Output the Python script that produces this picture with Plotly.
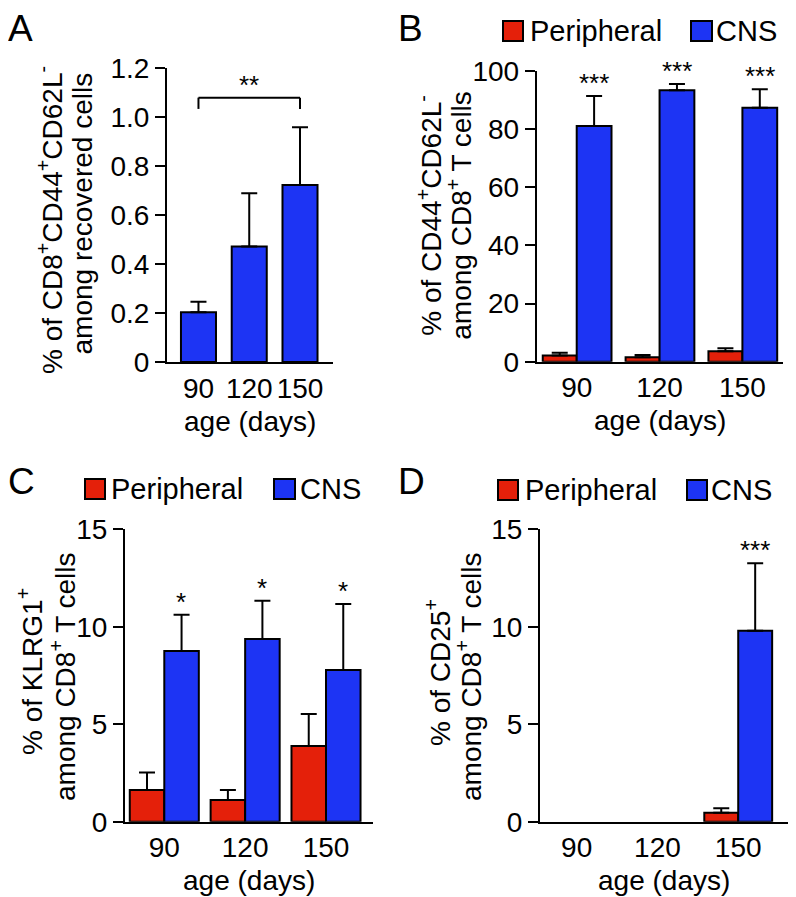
import plotly.graph_objects as go

# ---------------- data ----------------
ages = ['90', '120', '150']

# Panel A
a_cns = [0.203, 0.471, 0.722]
a_cns_err = [0.043, 0.218, 0.236]
a_ticks = [0, 0.2, 0.4, 0.6, 0.8, 1.0, 1.2]
a_ticktext = ['0', '0.2', '0.4', '0.6', '0.8', '1.0', '1.2']
a_bracket = [1.033, 1.079]
a_sig = '**'

# Panel B
b_per = [2.1, 1.5, 3.6]
b_per_err = [1.0, 0.8, 1.0]
b_cns = [81.1, 93.4, 87.4]
b_cns_err = [10.3, 2.1, 6.3]
b_sig = ['***', '***', '***']
b_ticks = [0, 20, 40, 60, 80, 100]

# Panel C
c_per = [1.63, 1.11, 3.88]
c_per_err = [0.90, 0.52, 1.65]
c_cns = [8.76, 9.37, 7.78]
c_cns_err = [1.86, 1.97, 3.39]
c_sig = ['*', '*', '*']
cd_ticks = [0, 5, 10, 15]

# Panel D
d_per = [None, None, 0.46]
d_per_err = [None, None, 0.23]
d_cns = [None, None, 9.80]
d_cns_err = [None, None, 3.46]
d_sig = ['', '', '***']

series_names = ['Peripheral', 'CNS']
RED = '#E4200A'
BLUE = '#1D34F4'
FONT = 'Liberation Sans, Arial, Helvetica, sans-serif'
FS = 28

W, H = 796, 897
OFF = 8  # page offset of the figure (browser body margin)


def fx(px):
    return (px - OFF) / W


def fy(py):
    return 1 - (py - OFF) / H


fig = go.Figure()

panels = {
    '': dict(x=(167, 333), y=(362, 68), yr=[0, 1.2], xr=[-0.62, 2.65],
             tv=a_ticks, tt=a_ticktext),
    '2': dict(x=(536.7, 783), y=(361.7, 71), yr=[0, 100], xr=[-0.483, 2.49],
              tv=b_ticks, tt=[str(v) for v in b_ticks]),
    '3': dict(x=(125, 373.3), y=(821.7, 529.3), yr=[0, 15], xr=[-0.486, 2.585],
              tv=cd_ticks, tt=[str(v) for v in cd_ticks]),
    '4': dict(x=(540, 788.3), y=(821.7, 529.3), yr=[0, 15], xr=[-0.454, 2.62],
              tv=cd_ticks, tt=[str(v) for v in cd_ticks]),
}

layout = {}
for k, p in panels.items():
    layout['xaxis' + k] = dict(
        domain=[fx(p['x'][0]), fx(p['x'][1])], anchor='y' + k,
        type='category', categoryorder='array', categoryarray=ages,
        range=p['xr'], showline=True, linewidth=2, linecolor='black',
        ticks='', showgrid=False, zeroline=False, fixedrange=True, automargin=False,
        tickfont=dict(size=FS, color='black', family=FONT),
        ticklabelstandoff=0,
    )
    layout['yaxis' + k] = dict(
        domain=[fy(p['y'][0]), fy(p['y'][1])], anchor='x' + k,
        range=p['yr'], showline=True, linewidth=2, linecolor='black',
        ticks='outside', ticklen=10, tickwidth=2, tickcolor='black', automargin=False,
        tickvals=p['tv'], ticktext=p['tt'], showgrid=False, zeroline=False,
        tickfont=dict(size=FS, color='black', family=FONT),
    )


def err(arr):
    return dict(type='data', symmetric=False, array=arr,
                arrayminus=[0 if v is not None else None for v in arr],
                color='black', thickness=2, width=8)


def add_bar(x, y, e, color, name, xa, ya, offset, width):
    fig.add_trace(go.Bar(
        x=x, y=y, name=name, marker=dict(color=color, line=dict(color='black', width=2)),
        error_y=err(e), xaxis=xa, yaxis=ya, offset=offset, width=width,
        showlegend=False,
    ))


add_bar(ages, a_cns, a_cns_err, BLUE, 'CNS', 'x', 'y', -0.345, 0.69)
add_bar(ages, b_per, b_per_err, RED, series_names[0], 'x2', 'y2', -0.41, 0.41)
add_bar(ages, b_cns, b_cns_err, BLUE, series_names[1], 'x2', 'y2', 0, 0.42)
add_bar(ages, c_per, c_per_err, RED, series_names[0], 'x3', 'y3', -0.427, 0.427)
add_bar(ages, c_cns, c_cns_err, BLUE, series_names[1], 'x3', 'y3', 0, 0.427)
add_bar(ages, d_per, d_per_err, RED, series_names[0], 'x4', 'y4', -0.42, 0.42)
add_bar(ages, d_cns, d_cns_err, BLUE, series_names[1], 'x4', 'y4', 0, 0.42)

annotations = []
shapes = []

# significance bracket (panel A) -- category positions by index
i0, i1, i2 = 0, 1, 2
shapes += [
    dict(type='line', xref='x', yref='y', x0=i0, x1=i0, y0=a_bracket[0], y1=a_bracket[1],
         line=dict(color='black', width=2)),
    dict(type='line', xref='x', yref='y', x0=i0, x1=i2, y0=a_bracket[1], y1=a_bracket[1],
         line=dict(color='black', width=2)),
    dict(type='line', xref='x', yref='y', x0=i2, x1=i2, y0=a_bracket[0], y1=a_bracket[1],
         line=dict(color='black', width=2)),
]
annotations.append(dict(text=a_sig, x=i1, y=a_bracket[1], xref='x', yref='y',
                        showarrow=False, yanchor='middle', yshift=13,
                        font=dict(size=26, color='black', family=FONT)))


def star_annots(sig, vals, errs, xa, ya, xshift):
    for i, (s, v, e) in enumerate(zip(sig, vals, errs)):
        if not s or v is None:
            continue
        annotations.append(dict(text=s, x=i, y=v + e, xref=xa, yref=ya, showarrow=False,
                                yanchor='middle', yshift=13, xshift=xshift,
                                font=dict(size=26, color='black', family=FONT)))


star_annots(b_sig, b_cns, b_cns_err, 'x2', 'y2', 17.5)
star_annots(c_sig, c_cns, c_cns_err, 'x3', 'y3', 17)
star_annots(d_sig, d_cns, d_cns_err, 'x4', 'y4', 17)

# panel letters (top row anchored to the top edge so nothing is cut)
for letter, (px, py, anc) in zip('ABCD', [(8, OFF, 'top'), (398, OFF, 'top'),
                                          (8, 481, 'middle'), (398, 481, 'middle')]):
    annotations.append(dict(text=letter, x=fx(px), y=fy(py), xref='paper', yref='paper',
                            xanchor='left', yanchor=anc, showarrow=False,
                            borderpad=0, borderwidth=0,
                            font=dict(size=37, color='black', family=FONT)))

ytitles = [
    (['% of CD8<sup>+</sup>CD44<sup>+</sup>CD62L<sup>-</sup>', 'among recovered cells'], [62, 91], [220, 214]),
    (['% of CD44<sup>+</sup>CD62L<sup>-</sup>', 'among CD8<sup>+</sup> T cells'], [441.7, 471.7], [215, 215]),
    (['% of KLRG1<sup>+</sup>', 'among CD8<sup>+</sup> T cells'], [42, 75], [672, 677]),
    (['% of CD25<sup>+</sup>', 'among CD8<sup>+</sup> T cells'], [450, 481], [672, 677]),
]
for lines, bases, centers in ytitles:
    for t, b, c in zip(lines, bases, centers):
        annotations.append(dict(text=t, x=fx(b + 8), y=fy(c), xref='paper', yref='paper',
                                xanchor='right', yanchor='middle', textangle=-90, showarrow=False,
                                font=dict(size=FS, color='black', family=FONT)))

for k, p in panels.items():
    cx = (p['x'][0] + p['x'][1]) / 2
    ty = p['y'][0] + 59
    annotations.append(dict(text='age (days)', x=fx(cx), y=fy(ty), xref='paper', yref='paper',
                            xanchor='center', yanchor='middle', showarrow=False,
                            font=dict(size=FS, color='black', family=FONT)))

legends = [
    dict(sq=[(503, 523), (691, 712)], txt=[528, 714], y=(21, 41)),
    dict(sq=[(85, 105), (274, 295)], txt=[109, 298], y=(479, 499)),
    dict(sq=[(498, 518), (687, 707)], txt=[523, 709], y=(480, 500)),
]
for lg in legends:
    for (x0, x1), tx, col, name in zip(lg['sq'], lg['txt'], [RED, BLUE], series_names):
        shapes.append(dict(type='rect', xref='paper', yref='paper', x0=fx(x0), x1=fx(x1),
                           y0=fy(lg['y'][1]), y1=fy(lg['y'][0]), fillcolor=col,
                           line=dict(color='black', width=2)))
        annotations.append(dict(text=name, x=fx(tx), y=fy((lg['y'][0] + lg['y'][1]) / 2),
                                xref='paper', yref='paper', xanchor='left', yanchor='middle',
                                showarrow=False, font=dict(size=29, color='black', family=FONT)))

fig.update_layout(
    **layout,
    width=W, height=H,
    margin=dict(l=0, r=0, t=0, b=0, autoexpand=False),
    paper_bgcolor='white', plot_bgcolor='white',
    barmode='overlay',
    showlegend=False,
    font=dict(family=FONT, size=FS, color='black'),
    annotations=annotations,
    shapes=shapes,
)

fig.write_html('out.html')
